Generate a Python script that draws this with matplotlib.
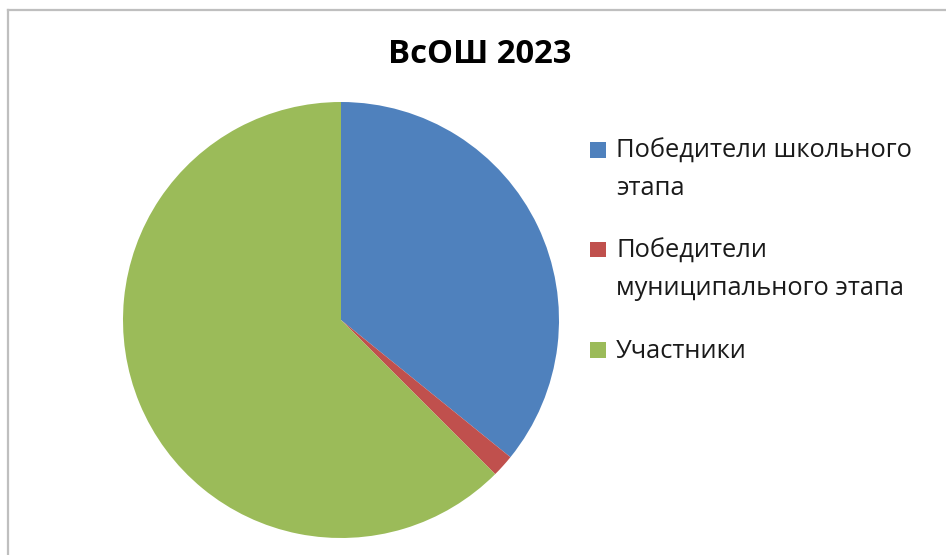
import matplotlib
matplotlib.use('Agg')
import matplotlib.pyplot as plt
from matplotlib.patches import Rectangle
from matplotlib.lines import Line2D

# данные диаграммы
title = 'ВсОШ 2023'
labels = ['Победители школьного\nэтапа',
          'Победители\nмуниципального этапа',
          'Участники']
values = [43, 2, 75]
colors = ['#4F81BD', '#C0504D', '#9BBB59']

W, H = 946, 555
plt.rcParams['font.family'] = ['Open Sans', 'DejaVu Sans']

fig = plt.figure(figsize=(W / 100, H / 100), dpi=100)

def px(x, y):
    # пиксели (от левого верхнего угла) -> доли фигуры
    return x / W, 1 - y / H

# круг: центр (341, 320), радиус 218 px
cx, cy, r = 341, 320, 218
ax = fig.add_axes([(cx - r) / W, (H - cy - r) / H, 2 * r / W, 2 * r / H])
ax.pie(values, colors=colors, startangle=90, counterclock=False,
       radius=1, wedgeprops=dict(linewidth=0))
ax.set_xlim(-1, 1)
ax.set_ylim(-1, 1)
ax.set_aspect('equal')
ax.axis('off')

# заголовок
tx, ty = px(480, 63)
fig.text(tx, ty, title, ha='center', va='baseline', fontsize=23.6,
         fontweight='bold', color='black')

# легенда
for i in range(len(labels)):
    top = 142 + i * 100
    x0, y0 = px(590, top + 15.5)
    fig.patches.append(Rectangle((x0, y0), 15.5 / W, 15.5 / H,
                                 transform=fig.transFigure,
                                 facecolor=colors[i], edgecolor='none'))
    for j, line in enumerate(labels[i].split('\n')):
        lx, ly = px(616, 158 + i * 100 + j * 37)
        fig.text(lx, ly, line, ha='left', va='baseline', fontsize=18.4,
                 color='#1a1a1a')

# рамка (видны только левая и верхняя стороны)
fig.lines.append(Line2D([8 / W, 8 / W], [0, 1 - 10 / H], transform=fig.transFigure,
                        color='#BFBFBF', linewidth=1.6))
fig.lines.append(Line2D([8 / W, 1], [1 - 10 / H, 1 - 10 / H], transform=fig.transFigure,
                        color='#BFBFBF', linewidth=1.6))

fig.savefig('out.png', dpi=100)
